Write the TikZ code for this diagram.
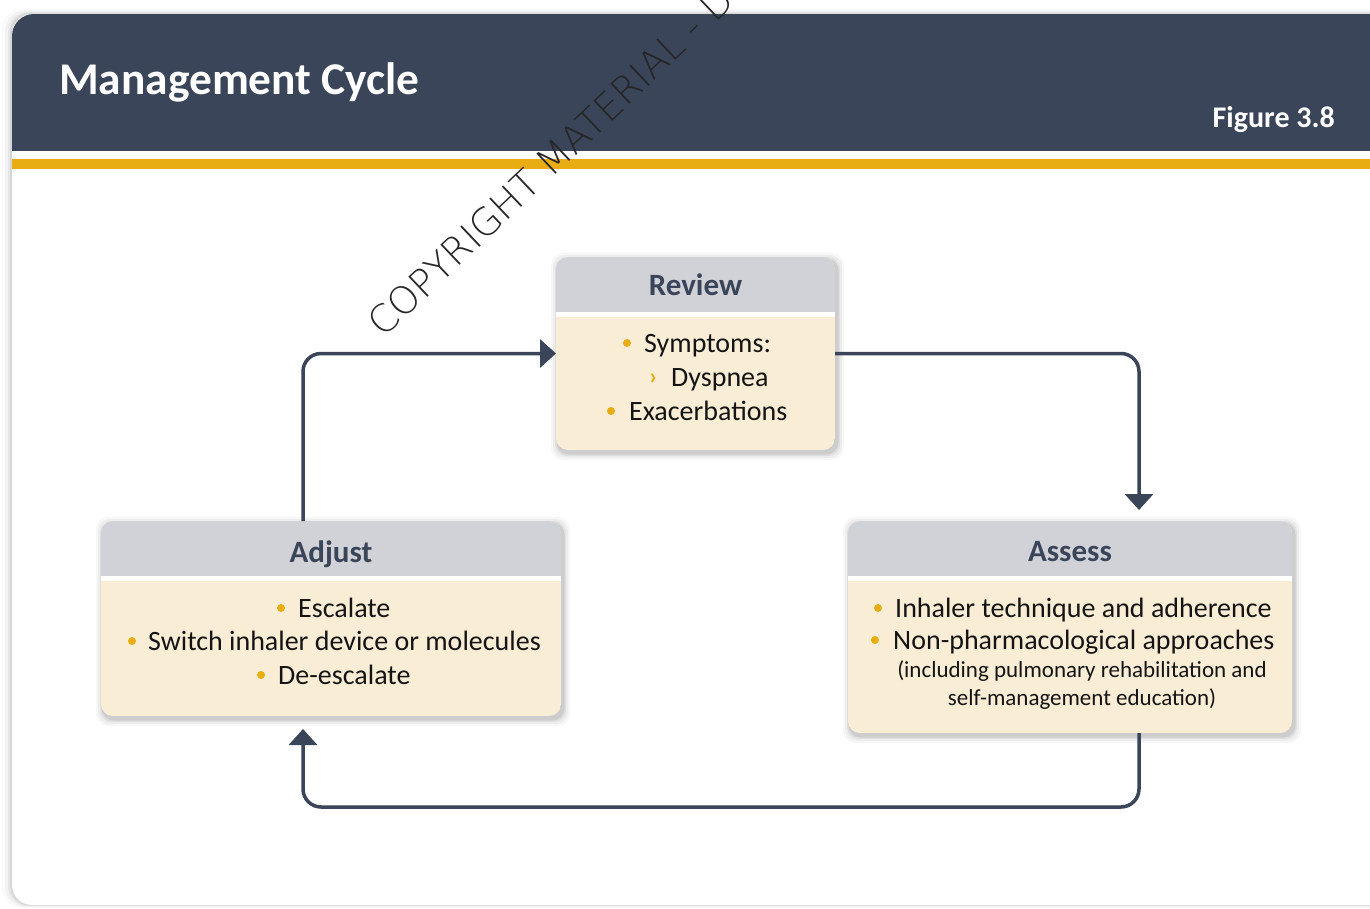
\documentclass[tikz,border=0pt]{standalone}
\usepackage{fontspec}
\setmainfont{Carlito}
\IfFontExistsTF{DejaVuSans-ExtraLight.ttf}{\newfontfamily\wmfont{DejaVuSans-ExtraLight.ttf}}{\newfontfamily\wmfont{Liberation Sans}}
\usetikzlibrary{arrows.meta}
\definecolor{navy}{HTML}{3A4559}
\definecolor{gold}{HTML}{E8AD12}
\definecolor{hdrgray}{HTML}{D1D2D8}
\definecolor{cream}{HTML}{FAEDD6}
\definecolor{txt}{HTML}{141414}
\definecolor{wm}{HTML}{262626}
\newcommand\boxshadow[1]{%
  \foreach \d/\o in {7/0.03,5/0.04,3/0.06,1.5/0.08}{%
    \fill[black,opacity=\o,rounded corners=12pt] ([xshift=2pt-\d pt,yshift=-3pt+\d pt]#1.north west) rectangle ([xshift=2pt+\d pt,yshift=-3pt-\d pt]#1.south east);}}
\newcommand\drawbox[1]{%
  \boxshadow{#1}
  \begin{scope}
    \clip[rounded corners=12pt] (#1.north west) rectangle (#1.south east);
    \fill[cream] (#1.north west) rectangle (#1.south east);
    \fill[hdrgray] (#1.north west) rectangle ([yshift=-55pt]#1.north east);
    \fill[white] ([yshift=-55pt]#1.north west) rectangle ([yshift=-60pt]#1.north east);
  \end{scope}}
\begin{document}
\begin{tikzpicture}[x=1pt,y=-1pt,
  conn/.style={draw=navy,line width=3.5pt,rounded corners=18pt,-{Triangle[length=16pt,width=28pt]}},
  boxtitle/.style={font=\bfseries\fontsize{31}{31}\selectfont,text=navy,anchor=base,inner sep=0pt},
  itm/.style={font=\fontsize{28}{28}\selectfont,text=txt,anchor=base west,inner sep=0pt},
  small/.style={font=\fontsize{23}{23}\selectfont,text=txt,anchor=base,inner sep=0pt},
  bul/.style={fill=gold},
  area/.style={inner sep=0pt,outer sep=0pt}]
\useasboundingbox (0,0) rectangle (1370,909);
% card shadow
\foreach \d/\o in {10/0.02,7/0.03,4/0.05,2/0.07}{%
  \fill[black,opacity=\o,rounded corners=20pt] (12-\d,14-0.5*\d) rectangle (1400,905+0.3*\d);}
\fill[white,rounded corners=20pt] (12,14) rectangle (1400,905);
\begin{scope}
  \clip[rounded corners=22pt] (12,14) rectangle (1400,905);
  \fill[navy] (12,14) rectangle (1400,151);
  \fill[gold] (12,159) rectangle (1400,169);
\end{scope}
\node[anchor=base west,font=\bfseries\fontsize{45.4}{45}\selectfont,text=white,inner sep=0pt] (title) at (59,95) {Management Cycle};
\node[anchor=base east,font=\bfseries\fontsize{30}{30}\selectfont,text=white,inner sep=0pt] (fig) at (1335,128) {Figure 3.8};
% box areas
\path node[area,minimum width=279pt,minimum height=193pt] (review) at (695.5,353.5) {};
\path node[area,minimum width=460pt,minimum height=195pt] (adjust) at (331,618.5) {};
\path node[area,minimum width=444pt,minimum height=212pt] (assess) at (1070,627) {};
\drawbox{review}
\drawbox{adjust}
\drawbox{assess}
% Review
\node[boxtitle] (rt) at (695.5,295) {Review};
\fill[bul] (627,343) circle (4pt);
\node[itm] (r1) at (644,352) {Symptoms:};
\node[itm,text=gold,font=\bfseries\fontsize{24}{24}\selectfont] (rc) at (649,384) {›};
\node[itm] (r2) at (671,386) {Dyspnea};
\fill[bul] (611,411) circle (4pt);
\node[itm] (r3) at (629,420) {Exacerbations};
% Adjust
\node[boxtitle] (at) at (331,562) {Adjust};
\fill[bul] (281,608) circle (4pt);
\node[itm] (a1) at (298,617) {Escalate};
\fill[bul] (132,641) circle (4pt);
\node[itm] (a2) at (148,650) {Switch inhaler device or molecules};
\fill[bul] (261,675) circle (4pt);
\node[itm] (a3) at (278,684) {De-escalate};
% Assess
\node[boxtitle] (st) at (1070,561) {Assess};
\fill[bul] (878,608) circle (4pt);
\node[itm] (s1) at (895,617) {Inhaler technique and adherence};
\fill[bul] (875,640) circle (4pt);
\node[itm] (s2) at (893,649) {Non-pharmacological approaches};
\node[small] (s3) at (1082,677) {(including pulmonary rehabilitation and};
\node[small] (s4) at (1082,705) {self-management education)};
% connectors
\coordinate (a2end) at ([xshift=69pt,yshift=11pt]assess.north);
\coordinate (a3start) at ([xshift=69pt]assess.south);
\coordinate (a3end) at ([xshift=-28pt,yshift=-13pt]adjust.south);
\coordinate (bot) at (0,807);
\draw[conn] ([xshift=-28pt]adjust.north) -- ([xshift=-28pt]adjust.north |- review.west) -- (review.west);
\draw[conn] (review.east) -- (review.east -| a2end) -- (a2end);
\draw[conn] (a3start) -- (a3start |- bot) -- (a3end |- bot) -- (a3end);
% watermark
\node[rotate=43.5,anchor=base west,inner sep=0pt,text=wm,font=\wmfont\fontsize{38}{38}\selectfont] (wmk) at (383,339) {COPYRIGHT MATERIAL - D};
\end{tikzpicture}
\end{document}
